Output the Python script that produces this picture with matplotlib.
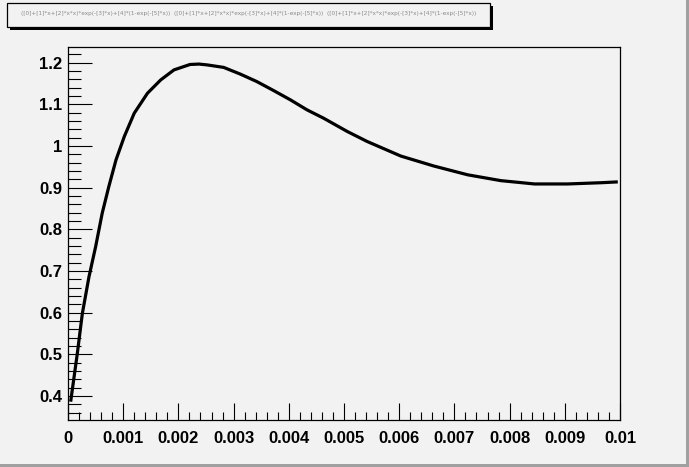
import matplotlib.pyplot as plt
from matplotlib.patches import Rectangle
from matplotlib.ticker import MultipleLocator, FuncFormatter

# curve
x = [0.000048, 0.000169, 0.00026, 0.00038, 0.0005, 0.00062, 0.00074, 0.00087,
     0.00102, 0.0012, 0.00144, 0.00168, 0.00192, 0.00221, 0.00237, 0.00252, 0.00282,
     0.00312, 0.00342, 0.00373, 0.00403, 0.00433, 0.00463, 0.00506, 0.00542,
     0.00603, 0.00663, 0.00724, 0.00784, 0.00845, 0.00905, 0.00966, 0.00996]
y = [0.386, 0.502, 0.598, 0.686, 0.758, 0.839, 0.903, 0.967,
     1.023, 1.079, 1.127, 1.159, 1.183, 1.196, 1.197, 1.195, 1.189,
     1.173, 1.155, 1.133, 1.111, 1.087, 1.067, 1.035, 1.011,
     0.976, 0.952, 0.931, 0.917, 0.909, 0.909, 0.912, 0.914]

title = ("([0]+[1]*x+[2]*x*x)*exp(-[3]*x)+[4]*(1-exp(-[5]*x))  ([0]+[1]*x+[2]*x*x)*exp(-[3]*x)+[4]*(1-exp(-[5]*x))  "
         "([0]+[1]*x+[2]*x*x)*exp(-[3]*x)+[4]*(1-exp(-[5]*x))")

bg = '#f2f2f2'
W, H = 689, 467
fig = plt.figure(figsize=(W / 100, H / 100), dpi=100, facecolor=bg)
ax = fig.add_axes([68 / W, 1 - 420 / H, (620 - 68) / W, (420 - 47) / H])
ax.set_facecolor(bg)

ax.plot(x, y, color='black', lw=2.3, solid_capstyle='butt', solid_joinstyle='round')

ax.set_xlim(0, 0.01)
ax.set_ylim(0.342, 1.238)
ax.xaxis.set_major_locator(MultipleLocator(0.001))
ax.xaxis.set_minor_locator(MultipleLocator(0.0002))
ax.yaxis.set_major_locator(MultipleLocator(0.1))
ax.yaxis.set_minor_locator(MultipleLocator(0.02))
fmt = FuncFormatter(lambda v, p: '%g' % round(v, 6))
ax.xaxis.set_major_formatter(fmt)
ax.yaxis.set_major_formatter(fmt)

ax.tick_params(which='both', direction='in', top=False, right=False, width=0.8)
ax.tick_params(axis='x', which='major', length=12, pad=8)
ax.tick_params(axis='x', which='minor', length=6)
ax.tick_params(axis='y', which='major', length=17, pad=4)
ax.tick_params(axis='y', which='minor', length=9)
for lab in ax.get_xticklabels() + ax.get_yticklabels():
    lab.set_fontfamily('Liberation Sans')
    lab.set_fontweight('bold')
    lab.set_fontsize(12)
for s in ax.spines.values():
    s.set_linewidth(0.9)

# title box with shadow
bx0, bx1, by0, by1 = 7, 490, 3, 27
fig.patches.append(Rectangle(((bx0 + 3) / W, 1 - (by1 + 3) / H), (bx1 - bx0) / W, (by1 - by0) / H,
                             transform=fig.transFigure, facecolor='black', edgecolor='none'))
fig.patches.append(Rectangle((bx0 / W, 1 - by1 / H), (bx1 - bx0) / W, (by1 - by0) / H,
                             transform=fig.transFigure, facecolor=bg, edgecolor='black', lw=0.9))
fig.text((bx0 + bx1) / 2 / W, 1 - 14 / H, title, fontsize=4.15, color='#8a8a8a',
         ha='center', va='center')

# canvas bevel on right and bottom
fig.patches.append(Rectangle((686 / W, 0), 3 / W, 1, transform=fig.transFigure,
                             facecolor='#a0a0a0', edgecolor='none'))
fig.patches.append(Rectangle((0, 0), 1, 3 / H, transform=fig.transFigure,
                             facecolor='#a0a0a0', edgecolor='none'))

fig.savefig('out.png', dpi=100, facecolor=bg)
